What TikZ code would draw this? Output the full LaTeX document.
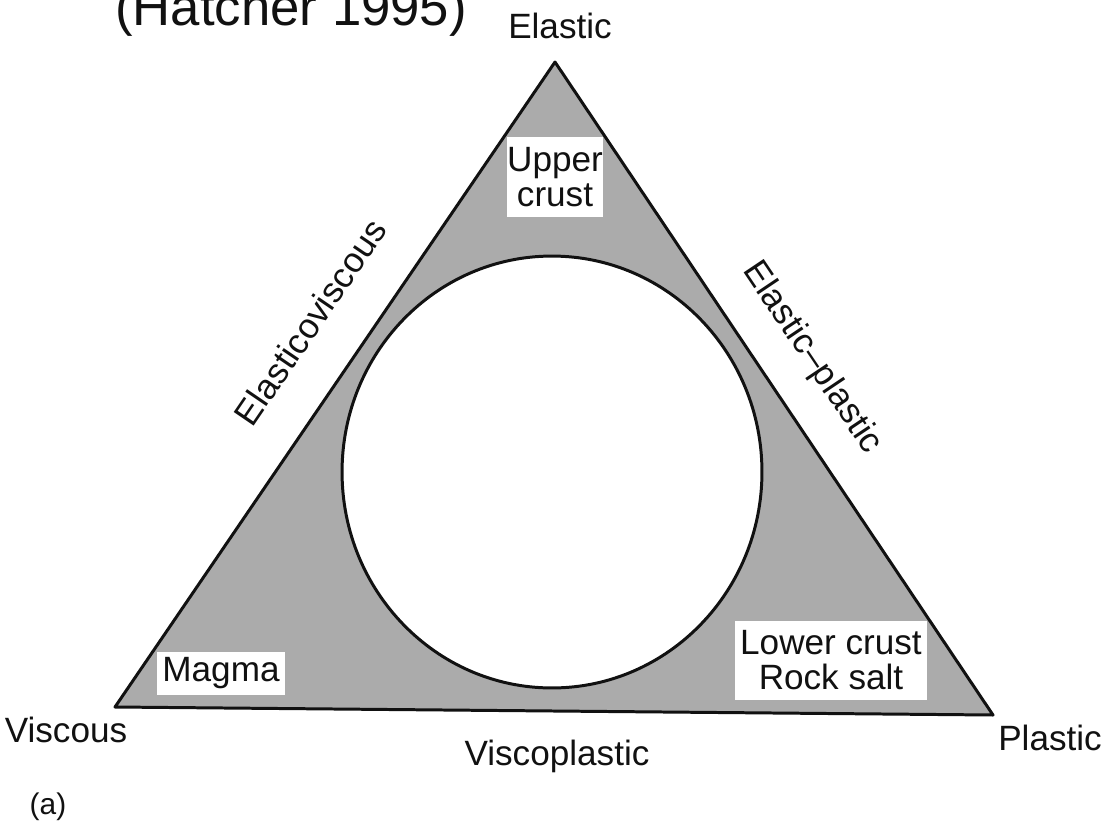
\documentclass[tikz,border=0pt]{standalone}
\usepackage{fontspec}
\setmainfont{Liberation Sans}
\usetikzlibrary{positioning}
\definecolor{Ink}{HTML}{111111}
\definecolor{Stipple}{HTML}{ABABAB}
\definecolor{Paper}{HTML}{FFFFFF}
\tikzset{
  corner/.style={inner sep=0pt, anchor=base, text=Ink, font=\fontsize{20}{20}\selectfont},
  sidelabel/.style={inner sep=0pt, text=Ink, font=\fontsize{20}{20}\selectfont},
  material/.style={
    fill=Paper, inner sep=0pt, align=center, text=Ink,
    font=\fontsize{20}{20}\selectfont
  },
  rim/.style={draw=Ink, line width=1.7pt, line join=round}
}
\begin{document}
\begin{tikzpicture}[x=0.02cm,y=-0.02cm]
    \useasboundingbox (0,0) rectangle (1105,825);
    \coordinate (apex) at (555,62);
    \coordinate (vcorner) at (115,707);
    \coordinate (pcorner) at (993,715);
    \draw[rim,fill=Stipple] (apex) -- (pcorner) -- (vcorner) -- cycle;
    \draw[rim,fill=Paper] (552,472) ellipse [x radius=4.2cm, y radius=4.32cm];
    % boxed materials
    \node[material,minimum width=1.92cm,minimum height=1.62cm] (upper) at (555,177) {Upper\\crust};
    \node[material,minimum width=2.56cm,minimum height=0.86cm] (magma) at (221,673) {Magma};
    \node[material,minimum width=3.86cm,minimum height=1.58cm] (lower) at (831,660) {Lower crust\\Rock salt};
    % end members
    \node[corner] (elastic) at (560,38) {Elastic};
    \node[corner] (viscous) at (66,742) {Viscous};
    \node[corner] (plastic) at (1050,750) {Plastic};
    \node[corner] (viscoplastic) at (557,765) {Viscoplastic};
    \node[sidelabel,rotate=55.7] (elasticoviscous) at (310,322) {Elasticoviscous};
    \node[sidelabel,rotate=-56.1] (elasticplastic) at (812,358) {Elastic--plastic};
    \node[corner,font=\fontsize{17}{17}\selectfont] (panel) at (48,814) {(a)};
    \node[inner sep=0pt,anchor=base west,text=Ink,font=\fontsize{30}{30}\selectfont] (source) at (115,25) {(Hatcher 1995)};
  \end{tikzpicture}
\end{document}
